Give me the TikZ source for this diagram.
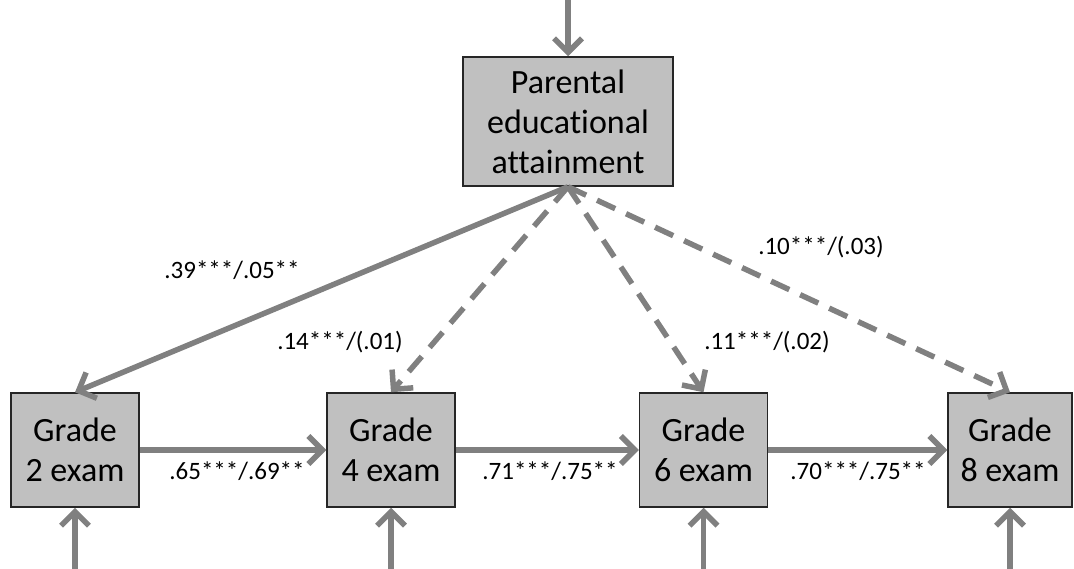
\documentclass[tikz,border=0pt]{standalone}
\usepackage{fontspec}
\setmainfont{Carlito}[Ligatures=NoCommon]
\usetikzlibrary{arrows.meta}
\definecolor{arrowgray}{RGB}{128,128,128}
\definecolor{boxgray}{RGB}{192,192,192}
\tikzset{
  varbox/.style={draw=black!85, line width=1.5pt, fill=boxgray, align=center,
    font=\fontsize{34}{40}\selectfont, inner sep=0pt},
  path/.style={draw=arrowgray, line width=5.5pt, -{Straight Barb[length=14pt,width=28pt,line width=5.5pt]}},
  dpath/.style={path, dash pattern=on 20pt off 12pt},
  coef/.style={font=\fontsize{25}{28}\selectfont, inner sep=0pt}
}
\begin{document}
\begin{tikzpicture}[x=1pt,y=-1pt]
\useasboundingbox (0,0) rectangle (1074,569);
\node[varbox, minimum width=210pt, minimum height=129pt] (pea) at (568,121.5) {Parental\\educational\\attainment};
\node[varbox, minimum width=128pt, minimum height=114pt] (g2) at (75,450) {Grade\\2 exam};
\node[varbox, minimum width=128pt, minimum height=114pt] (g4) at (391,450) {Grade\\4 exam};
\node[varbox, minimum width=128pt, minimum height=114pt] (g6) at (703.5,450) {Grade\\6 exam};
\node[varbox, minimum width=124pt, minimum height=114pt] (g8) at (1010,450) {Grade\\8 exam};
\coordinate (ep) at (568,-2);
\coordinate (e2) at (75,571);
\coordinate (e4) at (391,571);
\coordinate (e6) at (703.5,571);
\coordinate (e8) at (1010,571);
\draw[path] (ep) -- (pea.north);
\draw[path] (e2) -- (g2.south);
\draw[path] (e4) -- (g4.south);
\draw[path] (e6) -- (g6.south);
\draw[path] (e8) -- (g8.south);
\draw[path] (g2.east) -- (g4.west);
\draw[path] (g4.east) -- (g6.west);
\draw[path] (g6.east) -- (g8.west);
\draw[path] (pea.south) -- (g2.north);
\draw[dpath] (pea.south) -- (g4.north);
\draw[dpath] (pea.south) -- (g6.north);
\draw[dpath] (pea.south) -- (g8.north);
\node[coef] (l1) at (232,270) {.39***/.05**};
\node[coef] (l2) at (340,342) {.14***/(.01)};
\node[coef] (l3) at (767,342) {.11***/(.02)};
\node[coef] (l4) at (821,247) {.10***/(.03)};
\node[coef] (l5) at (237,471) {.65***/.69**};
\node[coef] (l6) at (550,471) {.71***/.75**};
\node[coef] (l7) at (858,471) {.70***/.75**};
\end{tikzpicture}
\end{document}
